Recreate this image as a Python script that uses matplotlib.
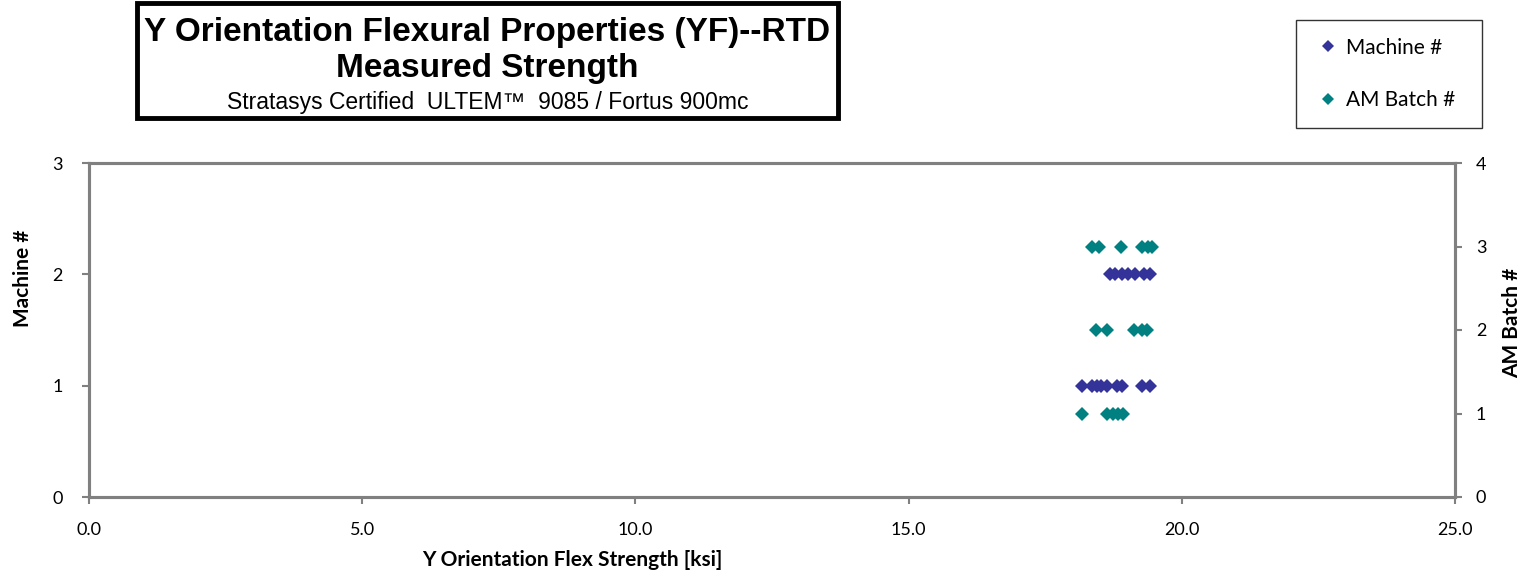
import matplotlib
matplotlib.use("Agg")
import matplotlib.pyplot as plt
from matplotlib.patches import Rectangle
from matplotlib.lines import Line2D

# Data
machine_strength = [18.17, 18.35, 18.44, 18.53, 18.63, 18.81, 18.90, 19.27, 19.42,
                    18.69, 18.78, 18.90, 19.02, 19.15, 19.30, 19.42]
machine_id = [1, 1, 1, 1, 1, 1, 1, 1, 1,
              2, 2, 2, 2, 2, 2, 2]
batch_strength = [18.17, 18.63, 18.74, 18.84, 18.93,
                  18.43, 18.63, 19.13, 19.27, 19.36,
                  18.35, 18.49, 18.89, 19.28, 19.39, 19.45]
batch_id = [1, 1, 1, 1, 1,
            2, 2, 2, 2, 2,
            3, 3, 3, 3, 3, 3]
x_ticks = [0.0, 5.0, 10.0, 15.0, 20.0, 25.0]
left_ticks = [0, 1, 2, 3]
right_ticks = [0, 1, 2, 3, 4]

W, H = 1528, 575
plt.rcParams['font.family'] = ['Lato', 'DejaVu Sans']
fig = plt.figure(figsize=(W / 100, H / 100), dpi=100)

ax = fig.add_axes([89 / W, 1 - 497 / H, (1455 - 89) / W, (497 - 163) / H])
ax2 = ax.twinx()

mc = '#333399'
bc = '#008080'
ax.plot(machine_strength, machine_id, linestyle='none', marker='D', markersize=7,
        color=mc, markeredgewidth=0, zorder=3)
ax2.plot(batch_strength, batch_id, linestyle='none', marker='D', markersize=7,
         color=bc, markeredgewidth=0, zorder=3)

ax.set_xlim(0, 25)
ax.set_ylim(0, 3)
ax2.set_ylim(0, 4)
ax.set_xticks(x_ticks)
ax.set_xticklabels([f"{v:.1f}" for v in x_ticks])
ax.set_yticks(left_ticks)
ax2.set_yticks(right_ticks)

gray = '#808080'
for a in (ax, ax2):
    for s in a.spines.values():
        s.set_color(gray)
        s.set_linewidth(2.2)
    a.tick_params(colors=gray, labelcolor='black', labelsize=13, width=1.5, length=5)
ax.tick_params(axis='x', pad=13)
ax.tick_params(axis='y', pad=14)
ax2.tick_params(axis='y', pad=10)

lab_fs = 15
ax.set_xlabel("Y Orientation Flex Strength [ksi]", fontsize=lab_fs, fontweight='bold')
ax.set_ylabel("Machine #", fontsize=lab_fs, fontweight='bold')
ax2.set_ylabel("AM Batch #", fontsize=lab_fs, fontweight='bold')
ax.xaxis.set_label_coords((572 - 89) / 1366, (497 - 560) / 334)
ax.yaxis.set_label_coords((23 - 89) / 1366, (497 - 278) / 334)
ax2.yaxis.set_label_coords((1512 - 89) / 1366, (497 - 323) / 334)
ax.xaxis.label.set_va('center')
ax.yaxis.label.set_va('center')
ax2.yaxis.label.set_va('center')

# Title box
x0, x1, y0, y1 = 137, 838, 3, 118
fig.patches.append(Rectangle((x0 / W, 1 - y1 / H), (x1 - x0) / W, (y1 - y0) / H,
                             transform=fig.transFigure, fill=False, edgecolor='black',
                             linewidth=3.5))
tfam = ['Liberation Sans', 'DejaVu Sans']
cx = (x0 + x1) / 2 / W
fig.text(cx, 1 - 33 / H, "Y Orientation Flexural Properties (YF)--RTD", ha='center', va='center',
         fontsize=24, fontweight='bold', family=tfam)
fig.text(cx, 1 - 69 / H, "Measured Strength", ha='center', va='center',
         fontsize=24, fontweight='bold', family=tfam)
fig.text(cx, 1 - 102 / H, "Stratasys Certified  ULTEM\u2122  9085 / Fortus 900mc", ha='center',
         va='center', fontsize=16.5, family=tfam)

# Legend
handles = [Line2D([], [], linestyle='none', marker='D', markersize=6.5, color=mc, markeredgewidth=0),
           Line2D([], [], linestyle='none', marker='D', markersize=6.5, color=bc, markeredgewidth=0)]
lx0, lx1, ly0, ly1 = 1296, 1482, 20, 128
leg = fig.legend(handles, ["Machine #", "AM Batch #"], loc='upper left',
                 bbox_to_anchor=(lx0 / W, 1 - ly1 / H, (lx1 - lx0) / W, (ly1 - ly0) / H),
                 mode='expand', frameon=True, fontsize=15,
                 labelspacing=1.55, handlelength=1.4, handletextpad=0.15,
                 borderpad=0.85, fancybox=False, borderaxespad=0)
leg.get_frame().set_edgecolor('black')
leg.get_frame().set_linewidth(1)

fig.savefig("out.png", dpi=100)
